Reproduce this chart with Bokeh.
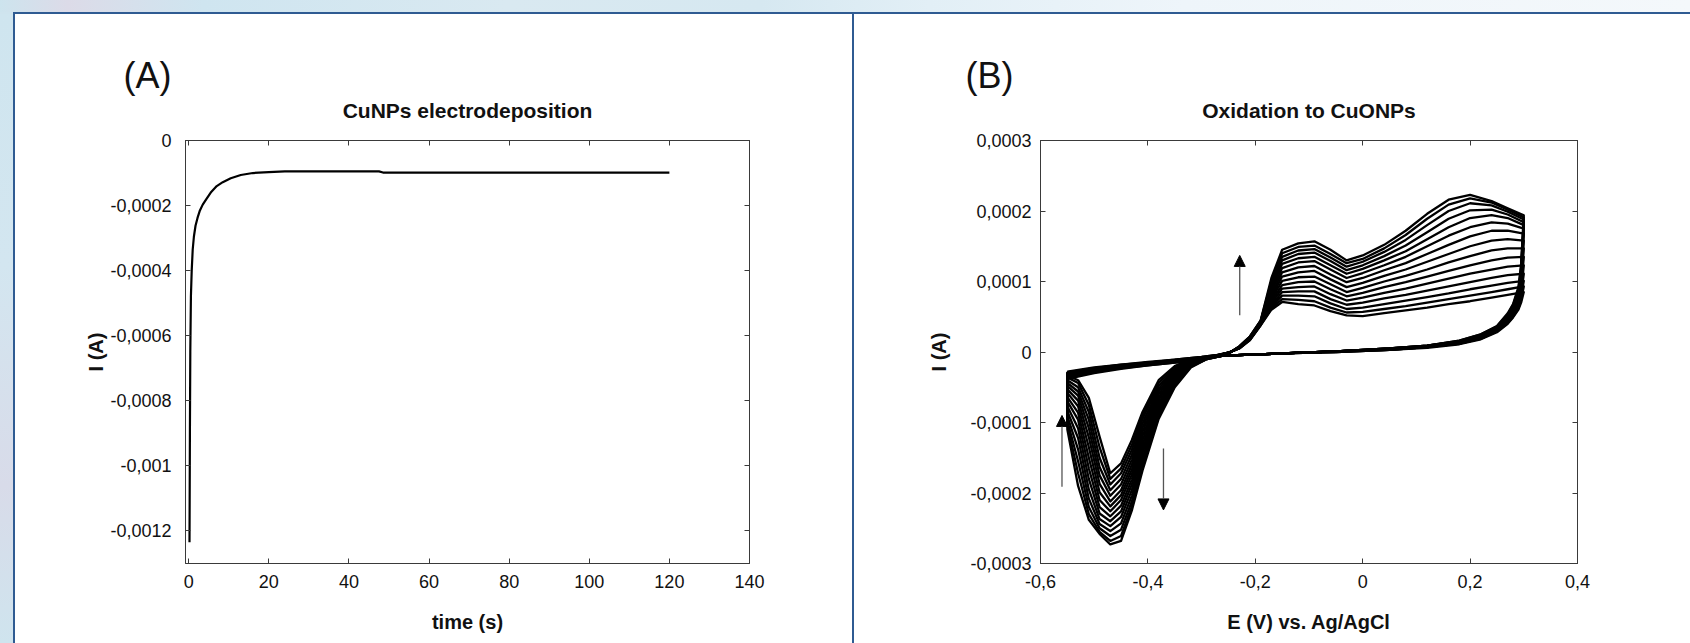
from bokeh.plotting import figure
from bokeh.models import (LinearAxis, FixedTicker, CustomJSTickFormatter, Range1d,
                          Div, Arrow, NormalHead)
from bokeh.layouts import row, column
from bokeh.embed import file_html
from bokeh.resources import INLINE

FONT = "Liberation Sans"

# ---------------- Panel A: chronoamperometry (CuNPs electrodeposition) ----------------
time_s = [0.2, 0.3, 0.4, 0.55, 0.75, 1.0, 1.3, 1.7, 2.2, 2.8, 3.5, 4.4, 5.5, 7, 8.5,
          10.5, 13, 16, 20, 24, 30, 40, 47.5, 48.5, 60, 80, 100, 120]
current_uA = [-1235, -900, -650, -480, -400, -335, -295, -262, -238, -215, -197, -180, -160, -140, -128,
              -116, -106, -100, -97, -95, -95, -95, -95, -98.5, -98.5, -98.5, -98.5, -98.5]

a_x_ticks = [0, 20, 40, 60, 80, 100, 120, 140]
a_x_labels = ["0", "20", "40", "60", "80", "100", "120", "140"]
a_y_ticks = [0, -0.0002, -0.0004, -0.0006, -0.0008, -0.001, -0.0012]
a_y_labels = ["0", "-0,0002", "-0,0004", "-0,0006", "-0,0008", "-0,001", "-0,0012"]

# ---------------- Panel B: repetitive CV (oxidation to CuONPs), 15 cycles, currents in uA ----------------
E_fwd_foot = [-0.55, -0.50, -0.45, -0.40, -0.35, -0.30, -0.27, -0.25, -0.23, -0.21, -0.19]
I_fwd_foot = [
    [-28, -22, -18, -14, -11, -7, -4, -1, 5, 17, 38],
    [-29, -23, -18, -15, -11, -7, -4, -1, 5, 17, 38],
    [-29, -23, -19, -15, -12, -8, -4, -1, 5, 18, 39],
    [-30, -24, -19, -15, -12, -8, -5, -1, 5, 18, 39],
    [-31, -24, -19, -16, -12, -8, -5, -1, 6, 18, 40],
    [-31, -25, -20, -16, -12, -8, -5, -1, 6, 19, 40],
    [-32, -25, -20, -16, -13, -9, -5, -1, 6, 19, 41],
    [-33, -26, -21, -17, -13, -9, -5, -1, 6, 19, 41],
    [-33, -26, -21, -17, -13, -9, -5, -1, 6, 20, 42],
    [-34, -27, -22, -17, -14, -9, -5, -2, 7, 20, 42],
    [-35, -27, -22, -18, -14, -9, -6, -2, 7, 20, 43],
    [-35, -28, -22, -18, -14, -10, -6, -2, 7, 21, 43],
    [-36, -28, -23, -18, -14, -10, -6, -2, 7, 21, 44],
    [-37, -29, -23, -19, -15, -10, -6, -2, 8, 22, 44],
    [-38, -30, -24, -19, -15, -10, -6, -2, 8, 22, 45],
]
E_fwd_peaks = [-0.17, -0.15, -0.12, -0.09, -0.06, -0.03, 0.00, 0.04, 0.08, 0.12, 0.16, 0.20, 0.24, 0.27, 0.30]
I_fwd_peaks = [
    [60, 71, 68, 66, 58, 52, 51, 55, 59, 63, 68, 72, 77, 81, 85],
    [62, 75, 74, 72, 63, 56, 57, 61, 65, 70, 75, 80, 85, 89, 93],
    [64, 80, 80, 79, 69, 61, 63, 68, 73, 78, 83, 89, 94, 98, 101],
    [66, 85, 86, 86, 75, 67, 70, 76, 81, 87, 93, 99, 105, 109, 111],
    [69, 90, 92, 93, 82, 73, 77, 84, 90, 97, 104, 111, 117, 121, 123],
    [72, 95, 99, 100, 89, 79, 84, 92, 99, 107, 115, 123, 130, 134, 135],
    [75, 101, 106, 107, 96, 85, 91, 100, 108, 117, 127, 136, 144, 147, 147],
    [78, 107, 113, 115, 103, 92, 98, 108, 117, 128, 139, 150, 158, 160, 158],
    [81, 113, 120, 122, 110, 99, 105, 116, 126, 139, 152, 164, 172, 172, 168],
    [85, 119, 127, 129, 117, 105, 112, 123, 135, 150, 165, 177, 184, 182, 175],
    [89, 125, 133, 135, 123, 111, 118, 130, 143, 160, 177, 190, 194, 190, 180],
    [93, 130, 139, 141, 129, 116, 123, 136, 151, 170, 189, 201, 202, 195, 184],
    [97, 135, 144, 146, 134, 121, 128, 142, 159, 180, 200, 211, 208, 199, 188],
    [101, 140, 149, 151, 139, 126, 132, 147, 166, 189, 209, 218, 212, 202, 191],
    [105, 145, 154, 157, 145, 130, 137, 152, 172, 196, 216, 223, 214, 204, 194],
]
E_rev_hi = [0.295, 0.29, 0.28, 0.27, 0.25, 0.22, 0.18, 0.12, 0.05, -0.05, -0.15, -0.22]
I_rev_hi = [
    [70, 60, 49, 40, 28, 18, 11, 6, 3, 0, -2, -4],
    [74, 62, 50, 41, 29, 19, 12, 7, 3, 0, -2, -4],
    [78, 64, 52, 42, 30, 19, 12, 7, 3, 0, -2, -4],
    [82, 66, 53, 43, 30, 20, 12, 7, 3, 1, -2, -4],
    [86, 68, 55, 44, 31, 20, 13, 7, 4, 1, -2, -4],
    [90, 71, 56, 45, 32, 21, 13, 7, 4, 1, -2, -4],
    [94, 73, 57, 46, 32, 21, 13, 8, 4, 1, -2, -4],
    [98, 75, 59, 47, 33, 22, 14, 8, 4, 1, -2, -4],
    [102, 78, 60, 48, 34, 22, 14, 8, 4, 1, -2, -4],
    [106, 80, 62, 49, 34, 23, 14, 8, 4, 1, -2, -4],
    [110, 83, 63, 50, 35, 23, 15, 8, 5, 1, -2, -4],
    [113, 85, 64, 51, 35, 24, 15, 9, 5, 1, -2, -4],
    [116, 87, 65, 52, 36, 24, 15, 9, 5, 1, -2, -4],
    [120, 89, 67, 53, 36, 25, 16, 9, 5, 1, -2, -4],
    [125, 92, 68, 55, 37, 25, 16, 9, 5, 1, -2, -4],
]
E_rev_lo = [-0.26, -0.29, -0.32, -0.35, -0.38, -0.41, -0.43, -0.45, -0.47, -0.49, -0.51, -0.53, -0.55]
I_rev_lo = [
    [-5, -7, -10, -20, -40, -85, -125, -158, -172, -120, -65, -40, -33],
    [-5, -7, -11, -22, -44, -90, -132, -165, -180, -135, -75, -44, -36],
    [-5, -7, -11, -24, -48, -95, -139, -172, -188, -150, -85, -50, -40],
    [-5, -8, -12, -26, -52, -101, -146, -180, -196, -163, -96, -56, -44],
    [-5, -8, -13, -28, -56, -107, -153, -188, -204, -175, -108, -62, -48],
    [-5, -8, -13, -30, -60, -113, -160, -196, -212, -187, -121, -69, -53],
    [-5, -8, -14, -32, -64, -119, -167, -203, -219, -199, -135, -77, -58],
    [-5, -8, -15, -34, -68, -125, -174, -210, -226, -210, -150, -86, -64],
    [-5, -9, -16, -36, -72, -131, -181, -218, -233, -220, -165, -96, -70],
    [-5, -9, -17, -38, -76, -137, -188, -226, -240, -229, -180, -108, -77],
    [-5, -9, -18, -40, -80, -143, -196, -234, -247, -237, -195, -122, -84],
    [-5, -9, -19, -42, -84, -150, -204, -243, -254, -244, -208, -138, -91],
    [-5, -10, -20, -45, -88, -157, -212, -252, -261, -250, -220, -155, -98],
    [-5, -10, -21, -48, -92, -163, -219, -261, -268, -255, -230, -172, -104],
    [-5, -10, -22, -50, -95, -168, -225, -268, -273, -258, -238, -190, -110],
]

# arrows drawn on panel B (E in V, I in A)
arrow_E = [-0.229, -0.560, -0.371]
arrow_I_start = [0.000052, -0.000191, -0.000137]
arrow_I_end = [0.000137, -0.000090, -0.000224]

b_x_ticks = [-0.6, -0.4, -0.2, 0, 0.2, 0.4]
b_x_labels = ["-0,6", "-0,4", "-0,2", "0", "0,2", "0,4"]
b_y_ticks = [-0.0003, -0.0002, -0.0001, 0, 0.0001, 0.0002, 0.0003]
b_y_labels = ["-0,0003", "-0,0002", "-0,0001", "0", "0,0001", "0,0002", "0,0003"]

FMT_CODE = """
let best = 0, d = Infinity;
for (let i = 0; i < tvals.length; i++) {
  const dd = Math.abs(tvals[i] - tick);
  if (dd < d) { d = dd; best = i; }
}
return tlabels[best];
"""

AX_COLOR = "#3a3a3a"
TXT = "#111111"
H = 629


def style_axis(ax, ticks, labels, standoff, show_labels=True):
    ax.ticker = FixedTicker(ticks=ticks)
    if show_labels:
        ax.formatter = CustomJSTickFormatter(args=dict(tvals=ticks, tlabels=labels), code=FMT_CODE)
    else:
        ax.formatter = CustomJSTickFormatter(code="return '';")
    ax.axis_line_color = AX_COLOR
    ax.axis_line_width = 1
    ax.major_tick_line_color = AX_COLOR
    ax.major_tick_in = 5
    ax.major_tick_out = 0
    ax.minor_tick_line_color = None
    ax.major_label_standoff = standoff
    ax.major_label_text_font = FONT
    ax.major_label_text_font_size = "18px"
    ax.major_label_text_color = TXT
    ax.axis_label_text_font = FONT
    ax.axis_label_text_font_size = "20px"
    ax.axis_label_text_font_style = "bold"
    ax.axis_label_text_color = TXT


def make_panel(width, border_left, frame_w, xr, yr, xt, xl, yt, yl, xlabel, ylabel, tag, tag_offset, title,
               ytick_standoff, ylab_standoff):
    p = figure(width=width, height=H, x_range=xr, y_range=yr, output_backend="svg",
               toolbar_location=None, min_border_left=border_left,
               min_border_right=width - border_left - frame_w,
               min_border_top=126, min_border_bottom=80)
    p.xgrid.grid_line_color = None
    p.ygrid.grid_line_color = None
    p.outline_line_color = AX_COLOR
    p.background_fill_color = "white"
    p.border_fill_color = "white"
    style_axis(p.xaxis[0], xt, xl, 11)
    style_axis(p.yaxis[0], yt, yl, ytick_standoff)
    p.xaxis[0].axis_label = xlabel
    p.xaxis[0].axis_label_standoff = 20
    p.yaxis[0].axis_label = ylabel
    p.yaxis[0].axis_label_standoff = ylab_standoff
    # top axis: inward ticks, no numbers, carries the panel title as its label
    top = LinearAxis()
    style_axis(top, xt, xl, 0, show_labels=False)
    top.axis_label = title
    top.axis_label_text_font_size = "21px"
    top.axis_label_standoff = 19
    right = LinearAxis()
    style_axis(right, yt, yl, 0, show_labels=False)
    p.add_layout(top, "above")
    p.add_layout(right, "right")
    # panel tag "(A)" / "(B)" as the plot title (sits above the top axis)
    p.title.text = tag
    p.title.text_font = FONT
    p.title.text_font_size = "36px"
    p.title.text_font_style = "normal"
    p.title.text_color = TXT
    p.title.align = "left"
    p.title.offset = tag_offset
    p.title.standoff = 0
    return p


pA = make_panel(837, 170, 564, Range1d(-0.8, 140), Range1d(-0.0013, 0), a_x_ticks, a_x_labels,
                a_y_ticks, a_y_labels, "time (s)", "I (A)", "(A)", -62, "CuNPs electrodeposition", 14, 0)
pA.line(time_s, [i * 1e-6 for i in current_uA], line_color="black", line_width=2.2)

pB = make_panel(836, 186, 537, Range1d(-0.6, 0.4), Range1d(-0.0003, 0.0003), b_x_ticks, b_x_labels,
                b_y_ticks, b_y_labels, "E (V) vs. Ag/AgCl", "I (A)", "(B)", -75, "Oxidation to CuONPs", 9, 17)

xs, ys = [], []
for c in range(len(I_fwd_foot)):
    E = E_fwd_foot + E_fwd_peaks + E_rev_hi + E_rev_lo
    I = I_fwd_foot[c] + I_fwd_peaks[c] + I_rev_hi[c] + I_rev_lo[c]
    E = E + [E[0]]
    I = I + [I[0]]
    xs.append(E)
    ys.append([v * 1e-6 for v in I])
pB.multi_line(xs, ys, line_color="black", line_width=2.3, line_join="round")

for xe, y0, y1 in zip(arrow_E, arrow_I_start, arrow_I_end):
    pB.add_layout(Arrow(x_start=xe, y_start=y0, x_end=xe, y_end=y1, line_color="#555555", line_width=1.3,
                        end=NormalHead(size=11, fill_color="black", line_color="black")))

# ---------------- page decoration (light-blue margin and dark-blue panel borders) ----------------
LIGHT = "#cfe4ee"
DARK = "#2f5b92"
top_strip = Div(text="", width=1690, height=12, margin=0,
                styles={"background": "linear-gradient(90deg, #cde4ee 0%, #dcdbe8 4%, #cfe5f0 12%, #d9e9f1 30%, #d6e8f1 45%, #e2eff6 55%, #eef5fa 70%, #f4f8fb 100%)"})
border_row = row(Div(text="", width=13, height=2, margin=0, styles={"background": LIGHT}),
                 Div(text="", width=1677, height=2, margin=0, styles={"background": DARK}))
left_strip = Div(text="", width=13, height=H, margin=0,
                 styles={"background": "linear-gradient(180deg, #cfe5ef 0%, #d3e6f0 40%, #d8dbe9 75%, #cfe4ee 100%)"})
vline1 = Div(text="", width=2, height=H, margin=0, styles={"background": DARK})
vline2 = Div(text="", width=2, height=H, margin=0, styles={"background": DARK})

layout = column(top_strip, border_row, row(left_strip, vline1, pA, vline2, pB))

open("out.html", "w").write(file_html(layout, INLINE))
